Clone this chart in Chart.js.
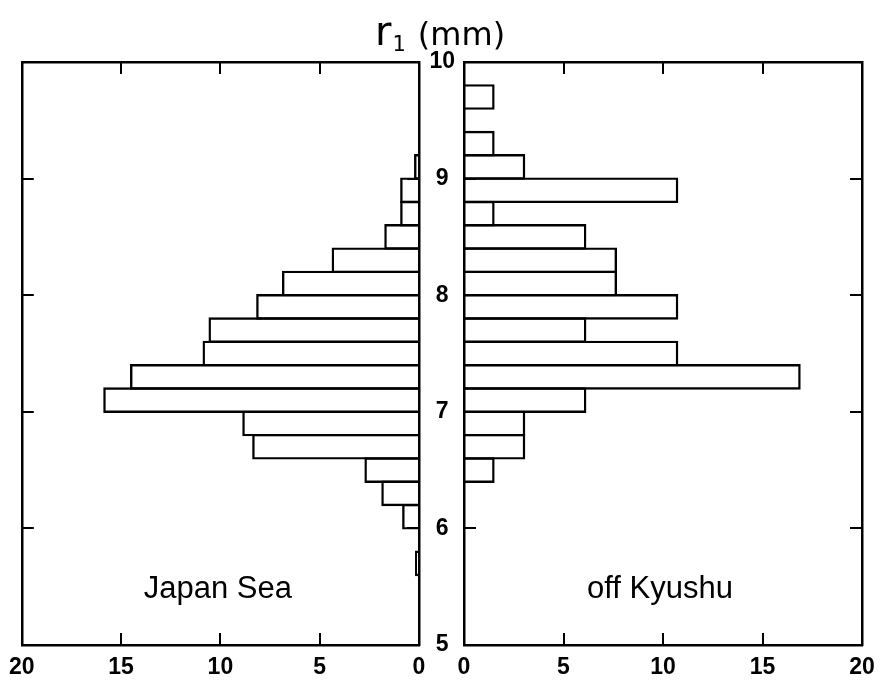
<!DOCTYPE html>
<html><head><meta charset="utf-8">
<script src="https://cdn.jsdelivr.net/npm/chart.js@4.4.1/dist/chart.umd.min.js"></script>
<style>
html,body{margin:0;padding:0;background:#fff;}
#wrap{position:relative;width:884px;height:685px;overflow:hidden;}
canvas{position:absolute;top:0;}
#cL{left:0;} #cR{left:420px;}
</style></head><body>
<div id="wrap"><canvas id="cL" width="884" height="685"></canvas><canvas id="cR" width="464" height="685"></canvas></div>
<script>
// ---- data ----
const binLower = [5.0,5.2,5.4,5.6,5.8,6.0,6.2,6.4,6.6,6.8,7.0,7.2,7.4,7.6,7.8,8.0,8.2,8.4,8.6,8.8,9.0,9.2,9.4,9.6,9.8];
const binWidth = 0.2;
const japanSea  = [0,0,0,0.2,0,0.85,1.9,2.75,8.4,8.9,15.9,14.55,10.9,10.6,8.2,6.9,4.4,1.75,0.95,0.95,0.25,0,0,0,0];
const offKyushu = [0,0,0,0,0,0,0,1.54,3.08,3.08,6.15,16.92,10.77,6.15,10.77,7.69,7.69,6.15,1.54,10.77,3.08,1.54,0,1.54,0];
const xTicks = [0,5,10,15,20];
const yTicks = [5,6,7,8,9,10];
const titleMain = 'r', titleSub = '1', titleUnit = '(mm)';
const panelNames = ['Japan Sea','off Kyushu'];

// ---- helpers ----
const toPoints = vals => binLower.map((b,i)=>({x: vals[i], y: +(b + binWidth/2).toFixed(2)})).filter(d => d.x > 0);
const tickFont = {family:'"Liberation Sans", Arial, sans-serif', size:23, weight:'bold'};
const frame = {display:true, color:'#000', width:2.5, z:1};
const noGrid = {display:false, drawTicks:false};

const inwardTicks = {
  id:'inwardTicks',
  beforeDatasetsDraw(chart){
    const {ctx, chartArea:a, scales} = chart;
    const L = 12;
    ctx.save(); ctx.strokeStyle='#000'; ctx.lineWidth=2; ctx.beginPath();
    xTicks.slice(1,-1).forEach(v=>{
      const px = Math.round(scales.x.getPixelForValue(v));
      ctx.moveTo(px,a.bottom); ctx.lineTo(px,a.bottom-L);
      ctx.moveTo(px,a.top); ctx.lineTo(px,a.top+L);
    });
    yTicks.slice(1,-1).forEach(v=>{
      const py = Math.round(scales.y.getPixelForValue(v));
      ctx.moveTo(a.left,py); ctx.lineTo(a.left+L,py);
      ctx.moveTo(a.right,py); ctx.lineTo(a.right-L,py);
    });
    ctx.stroke(); ctx.restore();
  }
};

const textL = {
  id:'textL',
  afterDraw(chart){
    const {ctx, chartArea:a} = chart;
    ctx.save(); ctx.fillStyle='#000'; ctx.textBaseline='alphabetic';
    // axis title r1 (mm)
    ctx.textAlign='left';
    ctx.font='40px "DejaVu Sans", sans-serif';
    let x = 375; ctx.fillText(titleMain, x, 45); x += ctx.measureText(titleMain).width + 1;
    ctx.font='21px "DejaVu Sans", sans-serif';
    ctx.fillText(titleSub, x, 51); x += ctx.measureText(titleSub).width + 12;
    ctx.font='32px "DejaVu Sans", sans-serif';
    ctx.fillText(titleUnit, x, 45);
    // panel label
    ctx.textAlign='center';
    ctx.font='31px "Liberation Sans", Arial, sans-serif';
    ctx.fillText(panelNames[0], a.left + 196, 598);
    ctx.restore();
  }
};
const textR = {
  id:'textR',
  afterDraw(chart){
    const {ctx, chartArea:a} = chart;
    ctx.save(); ctx.fillStyle='#000'; ctx.textAlign='center'; ctx.textBaseline='alphabetic';
    ctx.font='31px "Liberation Sans", Arial, sans-serif';
    ctx.fillText(panelNames[1], a.left + 196, 598);
    ctx.restore();
  }
};

function barDataset(vals){
  return {
    data: toPoints(vals),
    backgroundColor:'rgba(255,255,255,0)',
    borderColor:'#000',
    borderWidth:2.4,
    borderSkipped:'start',
    barPercentage:1.1,
    categoryPercentage:1,
    inflateAmount:0
  };
}

function makeOptions(reverse, labelY, pad){
  return {
    responsive:false, animation:false, indexAxis:'y',
    layout:{padding:pad},
    plugins:{legend:{display:false}, tooltip:{enabled:false}, title:{display:false}},
    scales:{
      x:{type:'linear', position:'bottom', min:0, max:20, reverse:reverse, offset:false,
         ticks:{stepSize:5, padding:9, font:tickFont, color:'#000', maxRotation:0, autoSkip:false},
         grid:noGrid, border:frame, afterFit:s=>{s.height=40;}},
      xTop:{type:'linear', position:'top', min:0, max:20, reverse:reverse, offset:false,
         ticks:{display:false}, grid:noGrid, border:frame, afterFit:s=>{s.height=0;}},
      y:{type:'linear', position:'left', min:5, max:10, offset:false,
         ticks: labelY ? {display:true, stepSize:1, font:tickFont, color:'#000', crossAlign:'center', padding:9}
                       : {display:false, stepSize:1},
         grid:{display:false, drawTicks:false, offset:false}, border:frame, afterFit:s=>{s.width = labelY ? 44 : 0;}},
      y2:{type:'linear', position:'right', min:5, max:10, offset:false,
         ticks:{display:false, stepSize:1}, grid:{display:false, drawTicks:false, offset:false}, border:frame, afterFit:s=>{s.width=0;}}
    }
  };
}

new Chart(document.getElementById('cL'), {
  type:'bar',
  data:{datasets:[barDataset(japanSea)]},
  options: makeOptions(true, false, {left:21, right:465, top:62, bottom:0}),
  plugins:[inwardTicks, textL]
});
new Chart(document.getElementById('cR'), {
  type:'bar',
  data:{datasets:[barDataset(offKyushu)]},
  options: makeOptions(false, true, {left:0, right:22, top:62, bottom:0}),
  plugins:[inwardTicks, textR]
});
</script></body></html>
